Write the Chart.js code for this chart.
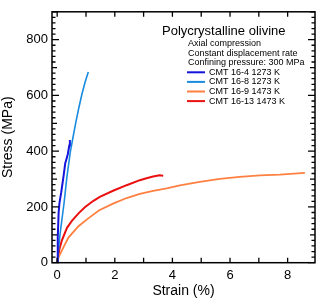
<!DOCTYPE html>
<html lang="en">
<head>
<meta charset="UTF-8">
<title>Polycrystalline olivine</title>
<script src="https://cdn.jsdelivr.net/npm/chart.js@4.4.1/dist/chart.umd.min.js"></script>
<style>
    html, body { margin: 0; padding: 0; background: #fff; }
    #wrap { width: 320px; height: 302px; }
</style>
</head>
<body>
<div id="wrap"><canvas id="stressChart" width="320" height="302"></canvas></div>
<script>
    // series labels and colours
    const seriesNames = ['CMT 16-4 1273 K', 'CMT 16-8 1273 K', 'CMT 16-9 1473 K', 'CMT 16-13 1473 K'];
    const seriesColors = ['#1414dc', '#1a8ce0', '#ff8040', '#ea1010'];

    // strain (%) / stress (MPa)
    const strain16_4 = [0, 0.02, 0.05, 0.08, 0.14, 0.22, 0.28, 0.33, 0.37, 0.42, 0.44];
    const stress16_4 = [0, 90, 180, 215, 252, 310, 357, 375, 390, 420, 440];

    const strain16_8 = [0, 0.1, 0.24, 0.34, 0.46, 0.55, 0.64, 0.75, 0.86, 0.97, 1.08];
    const stress16_8 = [0, 103, 215, 310, 400, 450, 500, 555, 605, 648, 684];

    const strain16_9 = [0, 0.05, 0.22, 0.39, 0.74, 1.09, 1.46, 1.94, 2.41, 2.87, 3.33, 3.8, 4.26, 4.95, 5.65, 6.34, 7.04, 7.73, 8.6];
    const stress16_9 = [0, 20, 56, 90, 131, 160, 188, 212, 232, 247, 258, 267, 277, 290, 301, 308, 313, 316, 322];

    const strain16_13 = [0, 0.03, 0.08, 0.16, 0.34, 0.51, 0.74, 0.97, 1.26, 1.48, 1.94, 2.41, 2.87, 3.1, 3.33, 3.55, 3.68];
    const stress16_13 = [0, 20, 50, 79, 125, 150, 177, 200, 222, 236, 258, 278, 296, 303, 309, 314, 312];

    const xTickLabels = [0, 2, 4, 6, 8];
    const yTickLabels = [0, 200, 400, 600, 800];

    const noteLines = ['Axial compression', 'Constant displacement rate', 'Confining pressure: 300 MPa'];

    const FONT = "'Liberation Sans', Arial, sans-serif";

    function toPoints(xs, ys) {
        return xs.map((x, i) => ({ x: x, y: ys[i] }));
    }

    const allStrain = [strain16_4, strain16_8, strain16_9, strain16_13];
    const allStress = [stress16_4, stress16_8, stress16_9, stress16_13];
    const widths = [2, 1.6, 1.8, 2];

    // frame + inward ticks on all four sides
    const framePlugin = {
        id: 'frame',
        afterDraw(chart) {
            const { ctx, chartArea: a, scales } = chart;
            const xs = scales.x, ys = scales.y;
            ctx.save();
            ctx.strokeStyle = '#000';
            ctx.lineWidth = 1.3;
            ctx.beginPath();
            for (let v = 0; v <= 8; v++) {
                const px = xs.getPixelForValue(v);
                ctx.moveTo(px, a.bottom); ctx.lineTo(px, a.bottom - 5);
                ctx.moveTo(px, a.top); ctx.lineTo(px, a.top + 5);
            }
            for (let v = 0; v <= 900; v += 20) {
                const py = ys.getPixelForValue(v);
                let len = 3.5;
                if (v % 200 === 0) len = 7;
                else if (v % 100 === 0) len = 5;
                ctx.moveTo(a.left, py); ctx.lineTo(a.left + len, py);
                ctx.moveTo(a.right, py); ctx.lineTo(a.right - len, py);
            }
            ctx.stroke();
            ctx.lineWidth = 1.5;
            ctx.strokeRect(a.left, a.top, a.right - a.left, a.bottom - a.top);
            ctx.restore();
        }
    };

    // legend block in the upper right
    const notePlugin = {
        id: 'notes',
        afterDraw(chart) {
            const ctx = chart.ctx;
            ctx.save();
            ctx.fillStyle = '#000';
            ctx.textBaseline = 'middle';
            ctx.font = '13px ' + FONT;
            ctx.fillText('Polycrystalline olivine', 162, 31);
            ctx.font = '9px ' + FONT;
            let y = 43.5;
            noteLines.forEach(t => {
                ctx.fillText(t, 188, y);
                y += 9.6;
            });
            chart.data.datasets.forEach(ds => {
                ctx.strokeStyle = ds.borderColor;
                ctx.lineWidth = 2;
                ctx.beginPath();
                ctx.moveTo(187, y);
                ctx.lineTo(205, y);
                ctx.stroke();
                ctx.fillText(ds.label, 209, y);
                y += 9.6;
            });
            ctx.restore();
        }
    };

    new Chart(document.getElementById('stressChart'), {
        type: 'scatter',
        data: {
            datasets: seriesNames.map((name, i) => ({
                label: name,
                data: toPoints(allStrain[i], allStress[i]),
                showLine: true,
                borderColor: seriesColors[i],
                backgroundColor: seriesColors[i],
                borderWidth: widths[i],
                pointRadius: 0,
                tension: 0
            }))
        },
        options: {
            responsive: false,
            animation: false,
            layout: { padding: { top: 4, right: 5, left: 0, bottom: 0 } },
            plugins: {
                legend: { display: false },
                tooltip: { enabled: false }
            },
            scales: {
                x: {
                    type: 'linear',
                    min: -0.18,
                    max: 8.95,
                    afterBuildTicks: s => { s.ticks = xTickLabels.map(v => ({ value: v })); },
                    afterFit: s => { s.height = 39.3; },
                    grid: { display: false, drawTicks: false },
                    border: { display: false },
                    ticks: { color: '#000', padding: 5, font: { family: FONT, size: 13 } },
                    title: {
                        display: true, text: 'Strain (%)', color: '#000',
                        font: { family: FONT, size: 14 }, padding: { top: 0, bottom: 2 }
                    }
                },
                y: {
                    type: 'linear',
                    min: 0,
                    max: 900,
                    afterBuildTicks: s => { s.ticks = yTickLabels.map(v => ({ value: v })); },
                    afterFit: s => { s.width = 52; },
                    grid: { display: false, drawTicks: false },
                    border: { display: false },
                    ticks: { color: '#000', padding: 4, font: { family: FONT, size: 13 } },
                    title: {
                        display: true, text: 'Stress (MPa)', color: '#000',
                        font: { family: FONT, size: 14 }, padding: { top: 0, bottom: 0 }
                    }
                }
            }
        },
        plugins: [framePlugin, notePlugin]
    });
</script>
</body>
</html>
